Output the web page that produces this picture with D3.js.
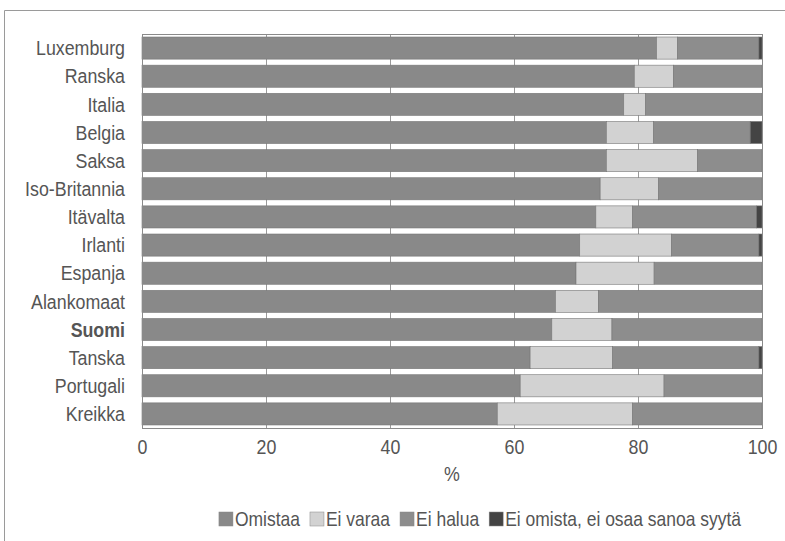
<!DOCTYPE html>
<html><head><meta charset="utf-8">
<script src="https://cdn.jsdelivr.net/npm/d3@7"></script>
<style>
body{margin:0;background:#fff;}
text{font-family:"Liberation Sans",Arial,sans-serif;fill:#555;}
</style></head><body>
<svg id="chart" width="785" height="541"></svg>
<script>
const countries = ["Luxemburg","Ranska","Italia","Belgia","Saksa","Iso-Britannia","Itävalta","Irlanti","Espanja","Alankomaat","Suomi","Tanska","Portugali","Kreikka"];
const omistaa = [83.0,79.4,77.7,74.9,74.9,73.9,73.2,70.6,70.0,66.7,66.1,62.6,61.0,57.3];
const eiVaraa = [3.4,6.3,3.5,7.6,14.7,9.4,5.9,14.8,12.6,6.9,9.7,13.3,23.2,21.8];
const eiHalua = [13.1,14.3,18.8,15.6,10.4,16.7,20.0,14.1,17.4,26.4,24.2,23.6,15.8,20.9];
const eiOsaa  = [0.5,0,0,1.9,0,0,0.9,0.5,0,0,0,0.5,0,0];
const seriesNames = ["Omistaa","Ei varaa","Ei halua","Ei omista, ei osaa sanoa syytä"];
const seriesColors = ["#898989","#d2d2d2","#8d8d8d","#444444"];
const xTicks = [0,20,40,60,80,100];

const FS = 20, SX = 0.89, LSX = 0.874;
const svg = d3.select("#chart");
// outer frame
svg.append("path").attr("d","M4.5,541 V10.5 H785").attr("fill","none").attr("stroke","#9a9a9a").attr("stroke-width",1);

const pLeft=142, pRight=762, pTop=34, pBottom=428;
const x = d3.scaleLinear().domain([0,100]).range([pLeft,pRight]);
const y = d3.scaleBand().domain(countries).range([pTop,pBottom]).paddingInner(0.214).paddingOuter(0.107);

// gridlines
svg.append("g").selectAll("line").data(xTicks.slice(1,-1)).join("line")
  .attr("x1",d=>x(d)+0.5).attr("x2",d=>x(d)+0.5).attr("y1",pTop).attr("y2",pBottom)
  .attr("stroke","#9a9a9a").attr("stroke-width",1);

const rows = countries.map((c,i)=>({c, vals:[omistaa[i],eiVaraa[i],eiHalua[i],eiOsaa[i]]}));
const segs = [];
rows.forEach(r=>{let acc=0; r.vals.forEach((v,k)=>{segs.push({c:r.c,k,x0:acc,x1:acc+v}); acc+=v;});});
svg.append("g").selectAll("rect").data(segs.filter(s=>s.x1>s.x0)).join("rect")
  .attr("x",d=>x(d.x0)).attr("width",d=>x(Math.min(d.x1,100))-x(d.x0))
  .attr("y",d=>y(d.c)).attr("height",y.bandwidth())
  .attr("fill",d=>seriesColors[d.k]).attr("stroke","#777").attr("stroke-width",0.6);

// plot border
svg.append("rect").attr("x",pLeft+0.5).attr("y",pTop+0.5).attr("width",pRight-pLeft).attr("height",pBottom-pTop)
  .attr("fill","none").attr("stroke","#8a8a8a").attr("stroke-width",1);

// category labels
svg.append("g").selectAll("text").data(countries).join("text")
  .attr("transform",d=>`translate(${pLeft-17},${y(d)+y.bandwidth()/2}) scale(${SX},1)`)
  .attr("dy","0.36em")
  .attr("text-anchor","end").attr("font-size",FS)
  .attr("font-weight",d=>d==="Suomi"?"bold":"normal")
  .text(d=>d);

// x axis labels
const xAxis = d3.axisBottom(x).tickValues(xTicks).tickSize(0).tickPadding(0);
const ax = svg.append("g").attr("transform",`translate(0,${pBottom+12})`).call(xAxis);
ax.select(".domain").remove();
ax.selectAll("text").attr("font-size",FS).attr("font-family",null).attr("fill",null).attr("dy","0.71em")
  .attr("transform",`scale(${SX},1)`);
svg.append("text").attr("transform",`translate(${(pLeft+pRight)/2},474) scale(${SX},1)`)
  .attr("dy","0.36em").attr("text-anchor","middle").attr("font-size",FS).text("%");

// legend
const lg = svg.append("g");
let cx = 0;
seriesNames.forEach((n,i)=>{
  const g = lg.append("g");
  g.append("rect").attr("x",0).attr("y",-7).attr("width",14).attr("height",14).attr("fill",seriesColors[i]).attr("stroke","#888").attr("stroke-width",0.5);
  const t = g.append("text").attr("transform",`translate(16,0) scale(${LSX},1)`).attr("dy","0.36em").attr("font-size",FS).text(n);
  const w = 16 + t.node().getComputedTextLength()*LSX;
  g.attr("transform",`translate(${cx},0)`);
  cx += w + 10;
});
const total = cx - 10;
lg.attr("transform",`translate(${480-total/2},519)`);
</script></body></html>
